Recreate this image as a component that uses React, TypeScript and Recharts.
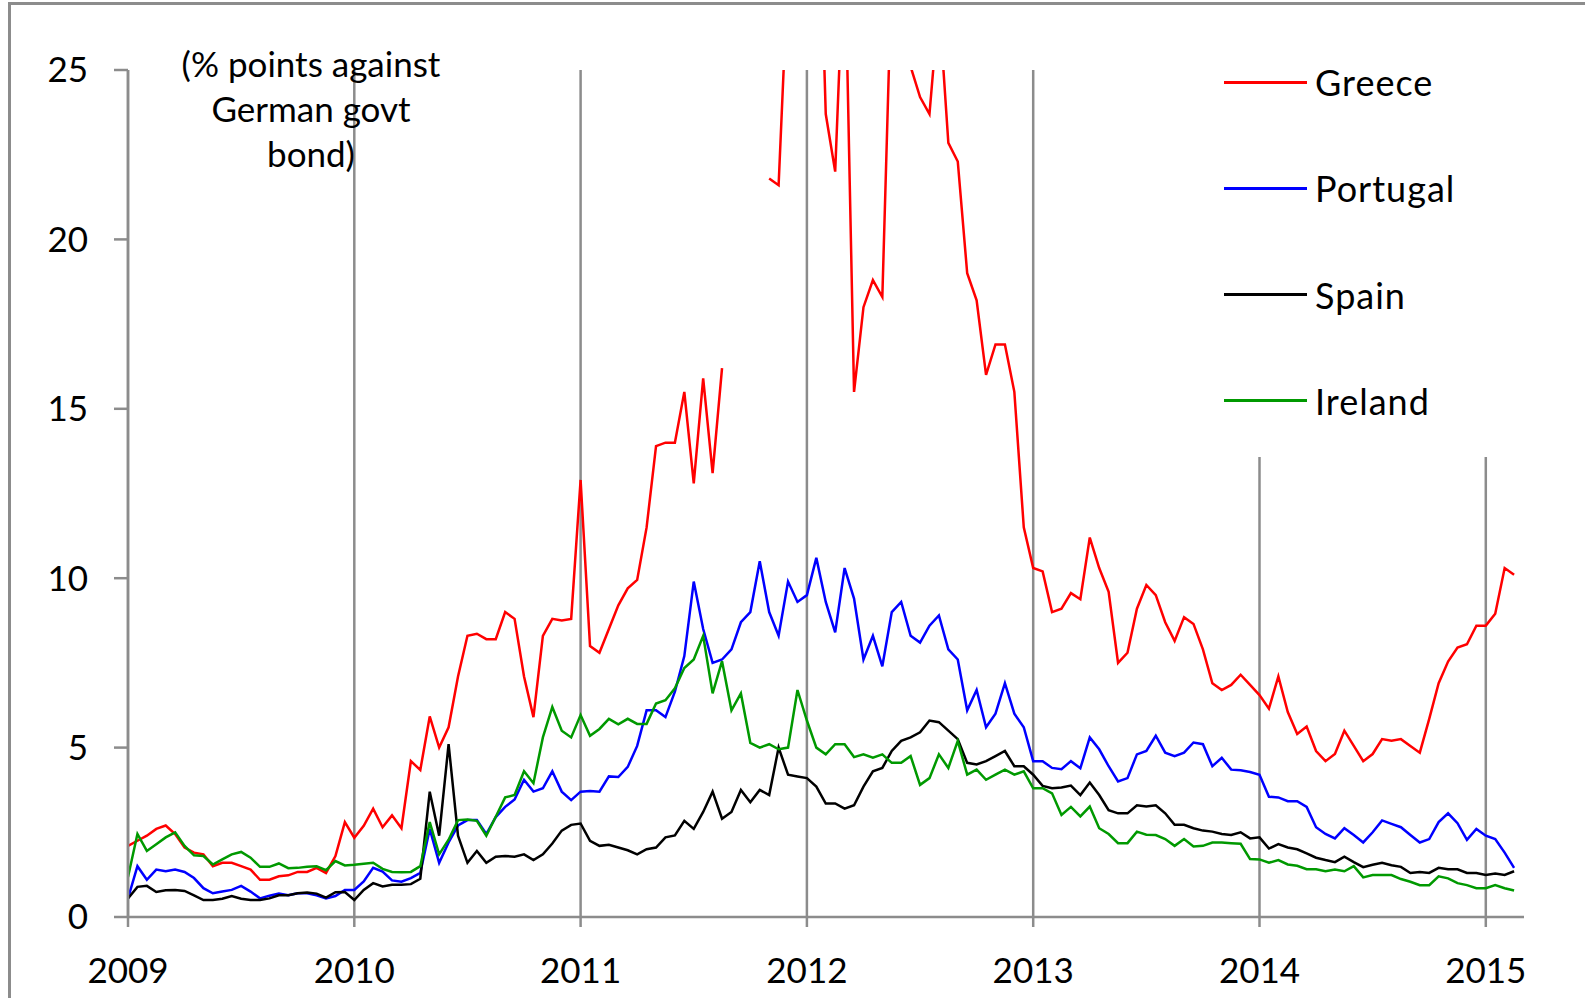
import { LineChart, Line, XAxis, YAxis, CartesianGrid, Legend } from "recharts";

// semi-monthly observations, starting Jan 2009
const START_YEAR = 2009;
const STEPS_PER_YEAR = 24;

const GREECE = [
  2.1, 2.25, 2.4, 2.6, 2.7, 2.45, 2.05, 1.9, 1.85, 1.5, 1.6, 1.6, 1.5, 1.4, 1.1, 1.1, 1.2, 1.23, 1.33, 1.33, 1.45, 1.3, 1.8, 2.8,
  2.34, 2.69, 3.2, 2.65, 3.0, 2.62, 4.6, 4.34, 5.92, 5.0, 5.6, 7.1, 8.3, 8.36, 8.2, 8.2, 9.0, 8.8, 7.1, 5.9, 8.3, 8.8, 8.75, 8.8,
  12.9, 8.0, 7.8, 8.5, 9.2, 9.7, 9.95, 11.5, 13.9, 14.0, 14.0, 15.5, 12.8, 15.9, 13.1, 16.2, null, null, null, null, 21.8, 21.6, 28, 30,
  32, 33, 23.7, 22.0, 29, 15.5, 18.0, 18.8, 18.3, 28, 30, 25.1, 24.2, 23.7, 27, 22.85, 22.3, 19.0, 18.2, 16.0, 16.9, 16.9, 15.5, 11.5,
  10.3, 10.2, 9.0, 9.1, 9.56, 9.38, 11.2, 10.3, 9.6, 7.5, 7.8, 9.1, 9.8, 9.5, 8.7, 8.15, 8.85, 8.65, 7.9, 6.9, 6.7, 6.85, 7.15, 6.85,
  6.55, 6.15, 7.1, 6.05, 5.4, 5.62, 4.9, 4.6, 4.81, 5.5, 5.05, 4.6, 4.81, 5.25, 5.2, 5.25, 5.05, 4.85, 5.85, 6.9, 7.54, 7.95, 8.05, 8.6,
  8.6, 8.95, 10.3, 10.1,
];

const PORTUGAL = [
  0.55, 1.5, 1.1, 1.4, 1.35, 1.4, 1.33, 1.15, 0.85, 0.7, 0.75, 0.8, 0.92, 0.75, 0.55, 0.63, 0.69, 0.64, 0.7, 0.7, 0.64, 0.55, 0.62, 0.8,
  0.8, 1.05, 1.45, 1.34, 1.08, 1.04, 1.15, 1.3, 2.6, 1.6, 2.2, 2.7, 2.86, 2.86, 2.45, 2.95, 3.25, 3.47, 4.05, 3.7, 3.8, 4.3, 3.7, 3.45,
  3.7, 3.72, 3.7, 4.15, 4.13, 4.43, 5.05, 6.1, 6.1, 5.9, 6.65, 7.7, 9.9, 8.5, 7.5, 7.6, 7.9, 8.7, 9.0, 10.5, 9.0, 8.3, 9.9, 9.3,
  9.5, 10.6, 9.3, 8.4, 10.3, 9.4, 7.6, 8.3, 7.4, 9.0, 9.3, 8.3, 8.1, 8.6, 8.9, 7.9, 7.6, 6.1, 6.7, 5.6, 6.0, 6.9, 6.0, 5.6,
  4.6, 4.6, 4.4, 4.36, 4.6, 4.39, 5.3, 4.95, 4.45, 4.0, 4.1, 4.8, 4.9, 5.35, 4.85, 4.75, 4.85, 5.15, 5.1, 4.45, 4.7, 4.35, 4.33, 4.28,
  4.2, 3.55, 3.53, 3.42, 3.42, 3.25, 2.65, 2.45, 2.32, 2.62, 2.42, 2.2, 2.5, 2.85, 2.75, 2.65, 2.42, 2.2, 2.3, 2.8, 3.06, 2.77, 2.28, 2.6,
  2.4, 2.3, 1.9, 1.45,
];

const SPAIN = [
  0.55, 0.89, 0.92, 0.74, 0.79, 0.8, 0.77, 0.64, 0.5, 0.5, 0.54, 0.62, 0.54, 0.5, 0.5, 0.55, 0.64, 0.64, 0.7, 0.72, 0.69, 0.57, 0.73, 0.74,
  0.5, 0.8, 1.0, 0.9, 0.95, 0.95, 0.97, 1.13, 3.7, 2.4, 5.1, 2.4, 1.6, 1.95, 1.6, 1.78, 1.8, 1.78, 1.85, 1.68, 1.85, 2.17, 2.55, 2.72,
  2.76, 2.25, 2.1, 2.13, 2.05, 1.97, 1.85, 2.0, 2.05, 2.35, 2.41, 2.84, 2.6, 3.1, 3.7, 2.9, 3.1, 3.75, 3.39, 3.75, 3.6, 5.0, 4.2, 4.15,
  4.1, 3.85, 3.35, 3.35, 3.2, 3.3, 3.85, 4.3, 4.4, 4.9, 5.2, 5.3, 5.45, 5.8, 5.75, 5.5, 5.25, 4.55, 4.5, 4.6, 4.75, 4.9, 4.45, 4.45,
  4.2, 3.87, 3.8, 3.82, 3.88, 3.6, 3.97, 3.6, 3.15, 3.06, 3.06, 3.3, 3.26, 3.3, 3.06, 2.72, 2.72, 2.62, 2.55, 2.52, 2.45, 2.42, 2.5, 2.32,
  2.35, 2.02, 2.15, 2.05, 2.0, 1.88, 1.75, 1.68, 1.62, 1.78, 1.62, 1.47, 1.54, 1.6, 1.53, 1.48, 1.3, 1.33, 1.3, 1.45, 1.41, 1.41, 1.3, 1.3,
  1.24, 1.28, 1.24, 1.35,
];

const IRELAND = [
  1.18, 2.45, 1.95, 2.15, 2.35, 2.5, 2.1, 1.82, 1.8, 1.55, 1.7, 1.85, 1.92, 1.75, 1.48, 1.48, 1.58, 1.44, 1.45, 1.48, 1.5, 1.38, 1.65, 1.52,
  1.54, 1.57, 1.6, 1.42, 1.33, 1.32, 1.33, 1.5, 2.8, 1.85, 2.28, 2.86, 2.88, 2.84, 2.4, 2.96, 3.53, 3.6, 4.3, 3.95, 5.3, 6.2, 5.5, 5.3,
  5.96, 5.35, 5.55, 5.85, 5.69, 5.85, 5.7, 5.7, 6.3, 6.4, 6.75, 7.35, 7.6, 8.3, 6.6, 7.55, 6.1, 6.6, 5.14, 5.0, 5.1, 4.95, 5.0, 6.7,
  5.8, 5.0, 4.8, 5.1, 5.1, 4.72, 4.8, 4.7, 4.8, 4.55, 4.55, 4.75, 3.9, 4.1, 4.8, 4.4, 5.2, 4.2, 4.35, 4.05, 4.2, 4.35, 4.2, 4.3,
  3.8, 3.8, 3.65, 3.01, 3.25, 2.97, 3.26, 2.62, 2.45, 2.18, 2.18, 2.52, 2.43, 2.42, 2.3, 2.1, 2.3, 2.08, 2.1, 2.2, 2.2, 2.18, 2.16, 1.71,
  1.7, 1.6, 1.68, 1.55, 1.51, 1.41, 1.41, 1.35, 1.4, 1.35, 1.5, 1.17, 1.24, 1.24, 1.24, 1.12, 1.04, 0.94, 0.94, 1.2, 1.14, 1.0, 0.94, 0.85,
  0.85, 0.94, 0.85, 0.78,
];

const YEAR_TICKS = [2009, 2010, 2011, 2012, 2013, 2014, 2015];
const Y_TICKS = [0, 5, 10, 15, 20, 25];
const NOTE_LINES = ["(% points against", "German govt", "bond)"];

const SERIES = [
  { key: "greece", name: "Greece", color: "#ff0000" },
  { key: "portugal", name: "Portugal", color: "#0000ff" },
  { key: "spain", name: "Spain", color: "#000000" },
  { key: "ireland", name: "Ireland", color: "#009900" },
];

const GRID = "#8c8c8c";
const FONT = "Lato, 'Open Sans', sans-serif";
const X_MAX = 2009 + 1396 / 226.3;

const data = GREECE.map((g, i) => ({
  t: START_YEAR + i / STEPS_PER_YEAR,
  greece: g,
  portugal: PORTUGAL[i],
  spain: SPAIN[i],
  ireland: IRELAND[i],
}));

const tickStyle = { fill: "#000", fontSize: 35, fontFamily: FONT };

function LegendBox() {
  return (
    <div style={{ position: "relative", width: 380, height: 417, background: "#fff", fontFamily: FONT }}>
      {SERIES.map((s, i) => (
        <div
          key={s.key}
          style={{ position: "absolute", left: 24, top: 42 + i * 106.3 - 20, height: 40, display: "flex", alignItems: "center" }}
        >
          <span style={{ display: "inline-block", width: 83, height: 3, background: s.color, marginRight: 8 }} />
          <span style={{ fontSize: 36, lineHeight: "40px", letterSpacing: 1, color: "#000", whiteSpace: "nowrap" }}>{s.name}</span>
        </div>
      ))}
    </div>
  );
}

export default function App() {
  return (
    <div style={{ position: "absolute", left: 0, top: 0, width: 1585, height: 998, background: "#fff", overflow: "hidden", fontFamily: FONT }}>
      <div style={{ position: "absolute", left: 8, top: 2, width: 1700, height: 1100, borderLeft: `3px solid ${GRID}`, borderTop: `3px solid ${GRID}` }} />
      <LineChart width={1585} height={998} data={data} margin={{ top: 70, right: 61, bottom: 0, left: 0 }}>
        <CartesianGrid horizontal={false} syncWithTicks stroke={GRID} strokeWidth={2.5} />
        <XAxis
          dataKey="t"
          type="number"
          domain={[2009, X_MAX]}
          ticks={YEAR_TICKS}
          allowDataOverflow
          height={81}
          tickSize={10}
          tickMargin={31}
          axisLine={{ stroke: GRID, strokeWidth: 2.5 }}
          tickLine={{ stroke: GRID, strokeWidth: 2.5 }}
          tick={tickStyle}
        />
        <YAxis
          domain={[0, 25]}
          ticks={Y_TICKS}
          allowDataOverflow
          width={128}
          tickSize={14}
          tickMargin={26}
          axisLine={{ stroke: GRID, strokeWidth: 2.5 }}
          tickLine={{ stroke: GRID, strokeWidth: 2.5 }}
          tick={tickStyle}
        />
        <Legend
          layout="horizontal"
          verticalAlign="middle"
          align="center"
          content={<LegendBox />}
          wrapperStyle={{ left: 1200, top: 40, width: 380, height: 417 }}
        />
        {SERIES.map((s) => (
          <Line key={s.key} dataKey={s.key} name={s.name} stroke={s.color} strokeWidth={2.5} dot={false} isAnimationActive={false} />
        ))}
      </LineChart>
      <div style={{ position: "absolute", left: 111, top: 41, width: 400, textAlign: "center", fontSize: 35, lineHeight: "45px", color: "#000" }}>
        {NOTE_LINES.map((l) => (
          <div key={l}>{l}</div>
        ))}
      </div>
    </div>
  );
}
